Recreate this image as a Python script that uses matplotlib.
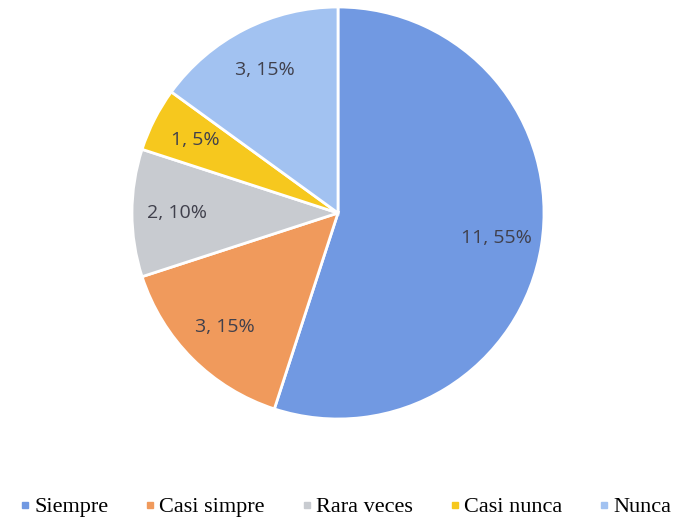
import matplotlib
matplotlib.use("Agg")
import matplotlib.pyplot as plt
from matplotlib.lines import Line2D

categories = ["Siempre", "Casi simpre", "Rara veces", "Casi nunca", "Nunca"]
counts = [11, 3, 2, 1, 3]
percents = [55, 15, 10, 5, 15]
colors = ["#7199E2", "#F09A5C", "#C8CBD0", "#F6C81E", "#A2C2F1"]

W, H = 679, 523
fig = plt.figure(figsize=(W / 100, H / 100), dpi=100)
cx, cy, r = 338, 213, 206
ax = fig.add_axes([(cx - r) / W, (H - cy - r) / H, 2 * r / W, 2 * r / H])

labels_txt = [f"{c}, {p}%" for c, p in zip(counts, percents)]
wedges, texts = ax.pie(counts, colors=colors, startangle=90, counterclock=False,
                       radius=1, labels=labels_txt, labeldistance=0.78,
                       wedgeprops=dict(edgecolor="white", linewidth=2),
                       textprops=dict(color="#40404C", fontsize=14, family="Open Sans",
                                      ha="center", va="center"))
for t in texts:
    t.set_ha("center")
    t.set_va("center")
ax.set_xlim(-1, 1)
ax.set_ylim(-1, 1)
ax.axis("off")

handles = [Line2D([0], [0], marker="s", linestyle="none", markersize=4.5,
                  markerfacecolor=c, markeredgecolor=c) for c in colors]
fig.legend(handles, categories, loc="center", bbox_to_anchor=(346 / W, 1 - 507 / H),
           ncol=5, frameon=False, handlelength=0.4, handletextpad=0.2,
           columnspacing=1.7, prop=dict(family="Liberation Serif", size=16))

fig.savefig("out.png", dpi=100)
